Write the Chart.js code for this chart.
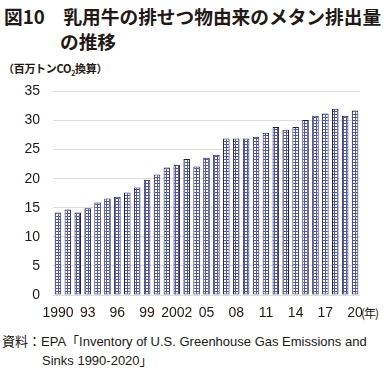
<!DOCTYPE html>
<html>
<head>
<meta charset="utf-8">
<script src="https://cdn.jsdelivr.net/npm/chart.js@4/dist/chart.umd.min.js"></script>
<style>
  body { margin: 0; background: #fff; width: 389px; height: 368px; position: relative; overflow: hidden; }
  .txt { position: absolute; white-space: nowrap; color: #231815; }
  #title1 { left: 4px; top: 2px; font: bold 18.7px "Noto Sans CJK JP", sans-serif; }
  #title2 { left: 60px; top: 27px; font: bold 18.7px "Noto Sans CJK JP", sans-serif; }
  #unit { left: 3px; top: 60px; font: bold 11px "Noto Sans CJK JP", sans-serif; letter-spacing: -0.3px; }
  #nen { left: 361px; top: 304px; font: 12px "Noto Sans CJK JP", sans-serif; letter-spacing: -1px; }
  #src1 { left: 2px; top: 331px; font: 13px "Liberation Sans", "Noto Sans CJK JP", sans-serif; }
  #src2 { left: 42px; top: 350px; font: 13px "Liberation Sans", "Noto Sans CJK JP", sans-serif; }
  #wrap { position: absolute; left: 0; top: 70px; width: 389px; height: 255px; }
</style>
</head>
<body>
<div class="txt" id="title1">図10　乳用牛の排せつ物由来のメタン排出量</div>
<div class="txt" id="title2">の推移</div>
<div class="txt" id="unit">（百万トンCO<sub style="font-size:7px">2</sub>換算）</div>
<div class="txt" id="nen">(年)</div>
<div class="txt" id="src1">資料：EPA「Inventory of U.S. Greenhouse Gas Emissions and</div>
<div class="txt" id="src2">Sinks 1990-2020」</div>
<div id="wrap"><canvas id="chart"></canvas></div>
<script>
// Data (million t CO2 eq.)
const years = [];
for (let y = 1990; y <= 2020; y++) years.push(String(y));

const emissions = [
  14.2, 14.7, 14.2, 14.9, 15.9, 16.6, 16.9, 17.6, 18.5, 19.8,
  20.7, 21.9, 22.4, 23.4, 22.1, 23.6, 24.1, 26.9, 26.9, 26.9,
  27.2, 27.9, 28.9, 28.4, 28.9, 30.1, 30.8, 31.2, 32.0, 30.8,
  31.7
];

// Labels shown under the axis (every 3 years)
const tickYears = ['1990', '1993', '1996', '1999', '2002', '2005', '2008', '2011', '2014', '2017', '2020'];
const tickText = ['1990', '93', '96', '99', '2002', '05', '08', '11', '14', '17', '20'];

// Crosshatch fill for bars
function makePattern() {
  const c = document.createElement('canvas');
  c.width = 3;
  c.height = 3;
  const g = c.getContext('2d');
  g.fillStyle = '#ffffff';
  g.fillRect(0, 0, 3, 3);
  g.fillStyle = '#5157a3';
  g.fillRect(1, 0, 1, 3);
  g.fillRect(0, 2, 3, 1);
  return g.createPattern(c, 'repeat');
}

const ctx = document.getElementById('chart').getContext('2d');

new Chart(ctx, {
  type: 'bar',
  data: {
    labels: years,
    datasets: [{
      data: emissions,
      backgroundColor: makePattern(),
      borderColor: '#1c1c3c',
      borderWidth: 1,
      borderSkipped: false,
      barPercentage: 0.66,
      categoryPercentage: 1
    }]
  },
  options: {
    responsive: true,
    maintainAspectRatio: false,
    animation: false,
    devicePixelRatio: 1,
    layout: { padding: { top: 0, right: 29, left: 0, bottom: 0 } },
    plugins: {
      legend: { display: false },
      tooltip: { enabled: false }
    },
    scales: {
      x: {
        grid: { display: false, drawTicks: false },
        border: { display: false },
        afterFit: (scale) => { scale.height = 30; },
        ticks: {
          autoSkip: false,
          maxRotation: 0,
          padding: 10,
          color: '#231815',
          font: { family: 'Liberation Sans', size: 14 },
          callback: function (value) {
            const i = tickYears.indexOf(this.getLabelForValue(value));
            return i >= 0 ? tickText[i] : '';
          }
        }
      },
      y: {
        min: 0,
        max: 35,
        afterFit: (scale) => { scale.width = 53; },
        grid: { color: '#dcdcdc', lineWidth: 1, drawTicks: false },
        border: { display: false },
        ticks: {
          stepSize: 5,
          padding: 13,
          color: '#231815',
          font: { family: 'Liberation Sans', size: 14 }
        }
      }
    }
  }
});
</script>
</body>
</html>
